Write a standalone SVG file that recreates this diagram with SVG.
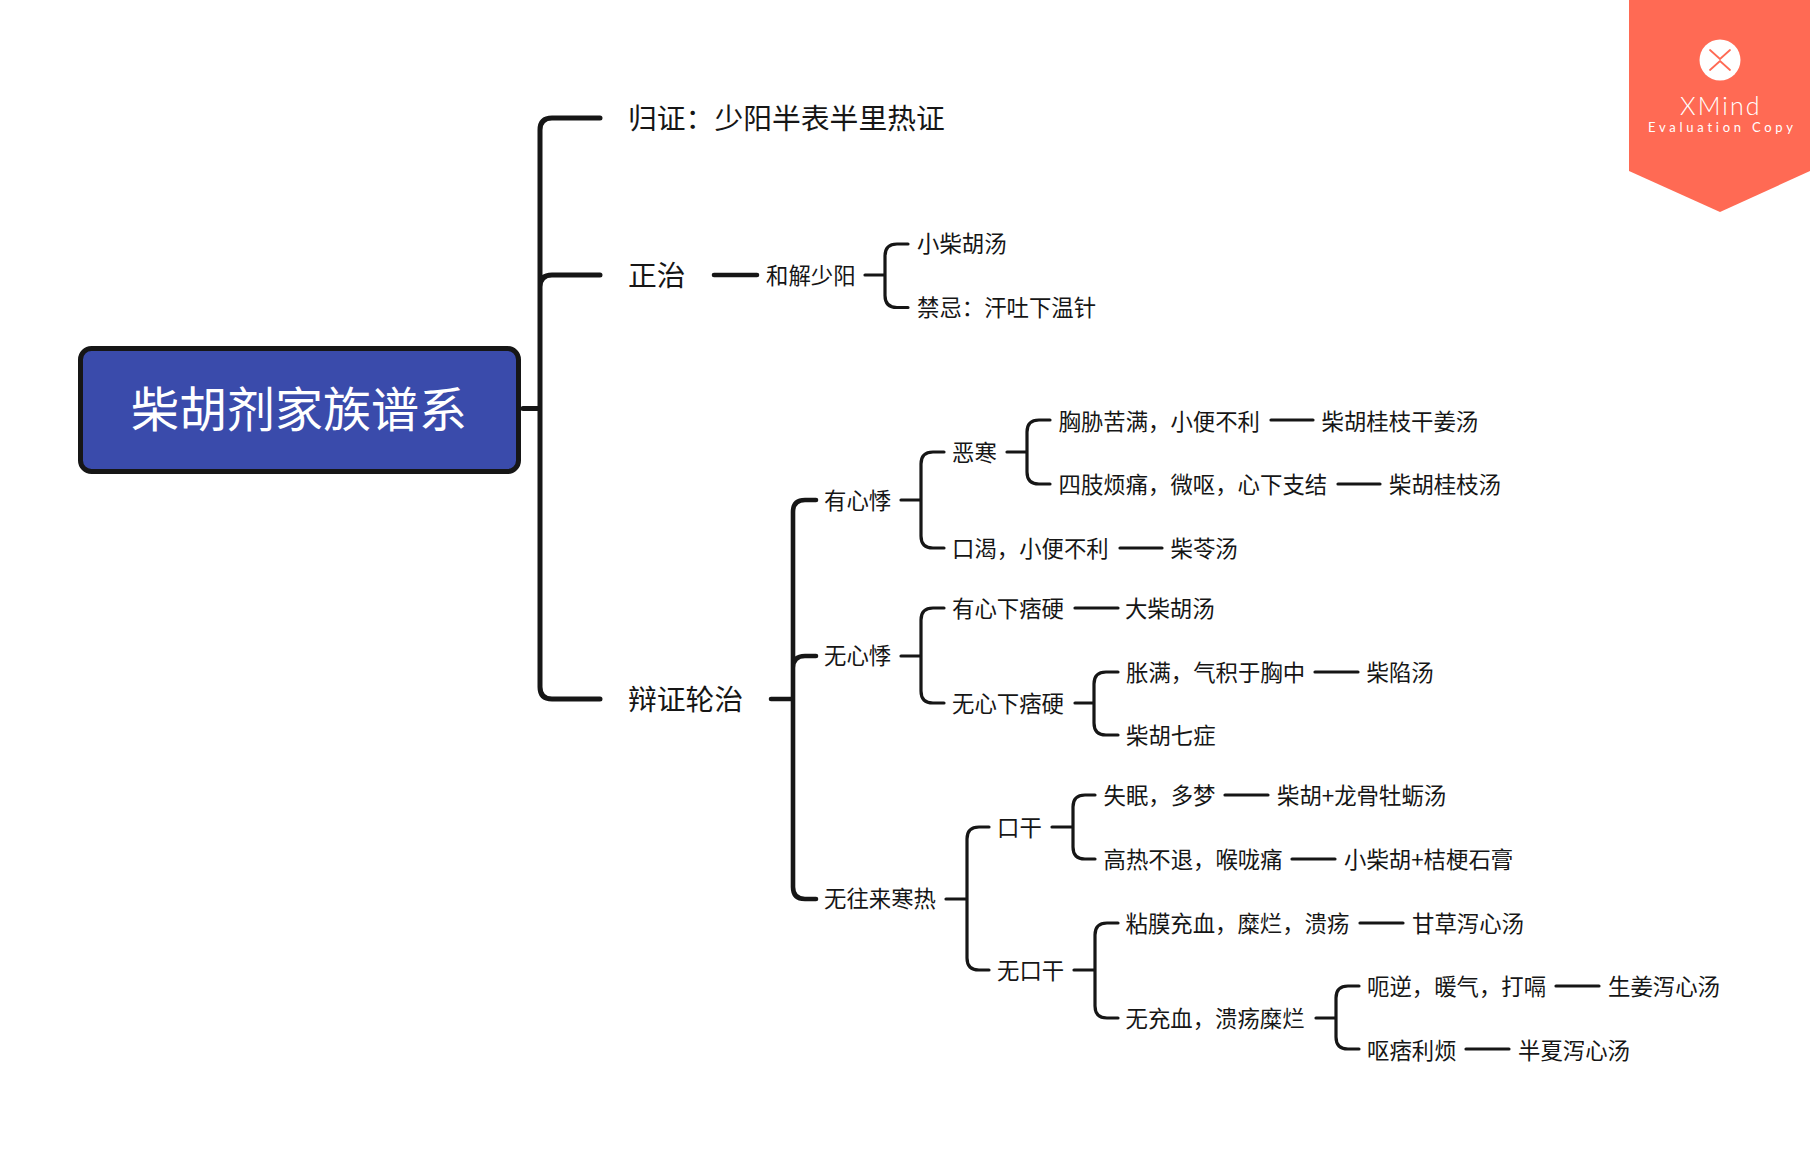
<svg xmlns="http://www.w3.org/2000/svg" width="1812" height="1160" viewBox="0 0 1812 1160">
<style>
text{font-family:"Noto Sans CJK SC","Noto Sans",sans-serif;fill:#161616}
.l1{font-size:28.8px}
.l2{font-size:22.4px}
.root{font-size:48px;fill:#fff;text-anchor:middle}
#connectors path{fill:none;stroke:#161616;stroke-linecap:round}
.s1{stroke-width:5}
.s2{stroke-width:4.600}
.s3{stroke-width:3.200}
</style>
<rect width="1812" height="1160" fill="#fff"/>
<g id="connectors">
<path class="s1" d="M523 408.500H540M600 118H552Q540 118 540 130V687Q540 699 552 699H600M540 287Q540 275 552 275H600"/>
<path class="s2" d="M714 275H757M771 699H793M816 500H805Q793 500 793 512V887Q793 899 805 899H816M793 668Q793 656 805 656H816"/>
<path class="s3" d="M865 275H885M885 256Q885 244 897 244H908M885 295.500Q885 307.500 897 307.500H908M885 256V295.500"/>
<path class="s3" d="M901 500H921M944 452H933Q921 452 921 464V536Q921 548 933 548H944"/>
<path class="s3" d="M1007 452H1027M1050 420H1039Q1027 420 1027 432V472Q1027 484 1039 484H1050"/>
<path class="s3" d="M1271 420H1313M1338 484H1380M1120 548H1162"/>
<path class="s3" d="M901 656H921M944 608H933Q921 608 921 620V691Q921 703 933 703H944"/>
<path class="s3" d="M1075 608H1118M1075 703H1094M1118 672H1106Q1094 672 1094 684V723Q1094 735 1106 735H1118M1315 672H1358"/>
<path class="s3" d="M946 899H967M989 827H979Q967 827 967 839V958Q967 970 979 970H989"/>
<path class="s3" d="M1052 827H1073M1095 795H1085Q1073 795 1073 807V847Q1073 859 1085 859H1095M1225 795H1268M1292 859H1335"/>
<path class="s3" d="M1074 970H1095M1118 923H1107Q1095 923 1095 935V1006Q1095 1018 1107 1018H1118M1360 923H1403"/>
<path class="s3" d="M1316 1018H1336M1359 986H1348Q1336 986 1336 998V1037Q1336 1049 1348 1049H1359M1556 986H1599M1466 1049H1509"/>
</g>
<g id="root"><rect x="80.500" y="348.500" width="438" height="123" rx="11" fill="#3a4bab" stroke="#161616" stroke-width="5"/><text class="root" x="299" y="427">柴胡剂家族谱系</text></g>
<g id="n1"><text class="l1" x="628" y="129">归证：少阳半表半里热证</text></g>
<g id="n2"><text class="l1" x="628" y="286">正治</text></g>
<g id="n3"><text class="l1" x="628" y="710">辩证轮治</text></g>
<g id="n4"><text class="l2" x="766" y="284">和解少阳</text></g>
<g id="n5"><text class="l2" x="917" y="252">小柴胡汤</text></g>
<g id="n6"><text class="l2" x="917" y="316">禁忌：汗吐下温针</text></g>
<g id="n7"><text class="l2" x="824" y="509">有心悸</text></g>
<g id="n8"><text class="l2" x="824" y="664">无心悸</text></g>
<g id="n9"><text class="l2" x="824" y="907">无往来寒热</text></g>
<g id="n10"><text class="l2" x="952" y="461">恶寒</text></g>
<g id="n11"><text class="l2" x="952" y="556.500">口渴，小便不利</text></g>
<g id="n12"><text class="l2" x="1170.500" y="556.500">柴苓汤</text></g>
<g id="n13"><text class="l2" x="1058.500" y="430">胸胁苦满，小便不利</text></g>
<g id="n14"><text class="l2" x="1321.500" y="430">柴胡桂枝干姜汤</text></g>
<g id="n15"><text class="l2" x="1058.500" y="493">四肢烦痛，微呕，心下支结</text></g>
<g id="n16"><text class="l2" x="1389" y="493">柴胡桂枝汤</text></g>
<g id="n17"><text class="l2" x="952" y="617">有心下痞硬</text></g>
<g id="n18"><text class="l2" x="1125" y="617">大柴胡汤</text></g>
<g id="n19"><text class="l2" x="952" y="712">无心下痞硬</text></g>
<g id="n20"><text class="l2" x="1126" y="681">胀满，气积于胸中</text></g>
<g id="n21"><text class="l2" x="1366.500" y="681">柴陷汤</text></g>
<g id="n22"><text class="l2" x="1126" y="744">柴胡七症</text></g>
<g id="n23"><text class="l2" x="997" y="836">口干</text></g>
<g id="n24"><text class="l2" x="997" y="979">无口干</text></g>
<g id="n25"><text class="l2" x="1103.500" y="804">失眠，多梦</text></g>
<g id="n26"><text class="l2" x="1277" y="804">柴胡+龙骨牡蛎汤</text></g>
<g id="n27"><text class="l2" x="1103.500" y="868">高热不退，喉咙痛</text></g>
<g id="n28"><text class="l2" x="1344" y="868">小柴胡+桔梗石膏</text></g>
<g id="n29"><text class="l2" x="1125.500" y="932">粘膜充血，糜烂，溃疡</text></g>
<g id="n30"><text class="l2" x="1412" y="932">甘草泻心汤</text></g>
<g id="n31"><text class="l2" x="1125.500" y="1027">无充血，溃疡糜烂</text></g>
<g id="n32"><text class="l2" x="1367" y="995">呃逆，暖气，打嗝</text></g>
<g id="n33"><text class="l2" x="1608" y="995">生姜泻心汤</text></g>
<g id="n34"><text class="l2" x="1367" y="1059">呕痞利烦</text></g>
<g id="n35"><text class="l2" x="1518" y="1059">半夏泻心汤</text></g>
<g id="badge">
<path d="M1629 0H1810V171L1720 212L1629 171Z" fill="#ff6a54"/>
<circle cx="1720" cy="60" r="20.500" fill="#fff"/>
<path d="M1710 50L1720 59L1730 50M1710 70L1720 61L1730 70" fill="none" stroke="#ff6a54" stroke-width="1.800" stroke-linecap="round"/>
<text x="1680" y="115" style="font-family:Lato,sans-serif;font-weight:300;font-size:25px;fill:#fff;letter-spacing:2.100px">XMind</text>
<text x="1648" y="132" style="font-family:Lato,sans-serif;font-size:13px;fill:#fff;letter-spacing:3.750px">Evaluation Copy</text>
</g>
</svg>
